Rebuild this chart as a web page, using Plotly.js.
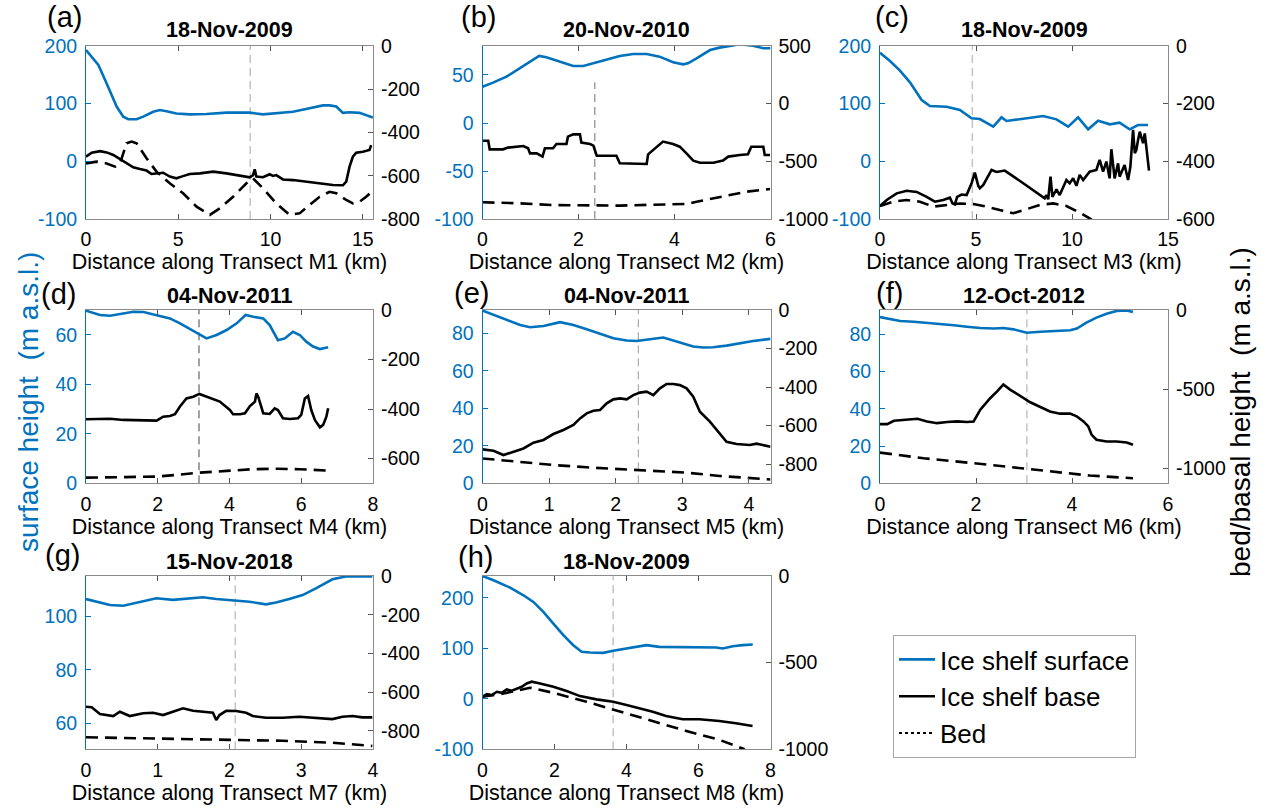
<!DOCTYPE html>
<html><head><meta charset="utf-8">
<script src="https://cdn.plot.ly/plotly-3.0.1.min.js"></script>
<style>html,body{margin:0;padding:0;background:#fff}#chart{width:1262px;height:811px}</style>
</head><body><div id="chart"></div>
<script>
// ---------- DATA ----------
const panelLabels = ['(a)','(b)','(c)','(d)','(e)','(f)','(g)','(h)'];
const dates = ['18-Nov-2009','20-Nov-2010','18-Nov-2009','04-Nov-2011','04-Nov-2011','12-Oct-2012','15-Nov-2018','18-Nov-2009'];
const transects = ['M1','M2','M3','M4','M5','M6','M7','M8'];
const vlineX = [8.9, 2.34, 4.81, 3.15, 2.34, 3.06, 2.08, 3.63];

// (a)
const aSurfX = [0,0.67,1.12,1.66,2.02,2.29,2.74,3.10,3.64,4.0,4.36,4.90,5.62,6.53,7.61,8.87,9.59,10.31,11.21,12.11,12.84,13.20,13.56,13.92,14.28,14.82,15.18,15.54];
const aSurfY = [193,167,135,95,77.5,73,73,77.5,86,89,87,83,81.5,82,84.4,84.4,81.5,83,86,92,97,97,95,84,85,84,80,76];
const aBaseX = [0,0.31,0.76,1.12,1.48,1.84,2.20,2.56,2.92,3.28,3.55,3.82,4.18,4.54,4.90,5.17,5.62,6.17,6.89,7.61,8.33,8.87,9.05,9.14,9.23,9.59,9.95,10.13,10.31,10.67,11.21,11.93,12.66,13.38,13.92,14.10,14.28,14.46,14.64,15.0,15.36,15.45];
const aBaseY = [-512,-493,-486,-492,-504,-524,-543,-561,-569,-576,-592,-589,-586,-604,-612,-604,-592,-589,-581,-589,-601,-607,-597,-570,-604,-607,-593,-601,-597,-617,-620,-627,-635,-643,-644,-627,-558,-512,-493,-489,-481,-458];
const aBedX = [0,0.58,1.12,1.57,1.84,2.20,2.47,2.74,3.28,3.82,4.54,5.26,5.99,6.71,7.25,7.97,8.69,9.05,9.59,10.31,11.03,11.57,12.11,12.66,13.20,13.56,14.10,14.46,14.82,15.18,15.54];
const aBedY = [-543,-535,-543,-558,-543,-450,-442,-450,-519,-581,-635,-681,-743,-781,-751,-697,-635,-612,-658,-728,-781,-774,-735,-697,-674,-681,-712,-728,-720,-697,-669];

// (b)
const bSurfX = [0,0.22,0.5,0.78,0.99,1.18,1.33,1.61,1.89,2.10,2.31,2.58,2.86,3.14,3.42,3.69,3.97,4.18,4.28,4.46,4.74,4.94,5.15,5.36,5.64,5.85,6.0];
const bSurfY = [37.8,42,48.3,56.9,63.9,69.8,68.4,63.9,59.4,59.4,62.2,66.3,69.8,71.9,71.9,69.1,63.2,61.1,62.2,67.4,76,78.5,80.5,82,80.5,77.8,77.8];
const bBaseX = [0,0.12,0.15,0.43,0.53,0.71,0.85,0.95,0.99,1.13,1.25,1.30,1.47,1.54,1.75,1.78,1.89,2.03,2.06,2.24,2.31,2.38,2.79,2.86,3.14,3.17,3.42,3.45,3.56,3.76,3.97,4.11,4.25,4.39,4.53,4.81,5.01,5.12,5.36,5.53,5.60,5.85,5.88,5.99];
const bBaseY = [-321,-321,-396,-396,-381,-373,-367,-387,-431,-431,-459,-387,-387,-350,-350,-286,-266,-266,-338,-350,-364,-451,-451,-517,-517,-523,-523,-439,-402,-329,-350,-373,-431,-494,-512,-512,-494,-459,-445,-439,-373,-373,-445,-445];
const bBedX = [0,0.78,1.47,2.17,2.86,3.56,4.25,4.46,4.81,5.15,5.50,5.99];
const bBedY = [-855,-864,-879,-884,-884,-876,-870,-850,-821,-792,-763,-740];

// (c)
const cSurfX = [0,0.52,1.04,1.56,2.17,2.60,3.47,4.16,4.77,5.20,5.90,6.33,6.59,8.50,9.19,9.80,10.32,10.84,11.36,11.97,12.48,13.00,13.44,13.96];
const cSurfY = [188.4,174,157.2,137,106.4,96,94.8,89,74.6,73.4,60.1,76.3,70,78.6,72.8,60.1,76.3,55.5,70.5,64.2,67.1,55.5,63,63];
const cBaseX = [0,0.35,0.87,1.39,1.91,2.43,2.86,3.29,3.64,3.78,3.90,4.02,4.25,4.51,4.77,4.94,5.12,5.20,5.38,5.81,6.07,6.50,7.46,8.58,8.67,8.76,8.88,8.98,9.19,9.36,9.71,9.88,10.06,10.23,10.40,10.58,10.92,11.27,11.44,11.62,11.79,11.96,12.05,12.22,12.40,12.48,12.74,12.92,13.04,13.18,13.27,13.35,13.44,13.53,13.70,13.79,13.87,13.96,14.01];
const cBaseY = [-555,-534,-511,-502,-506,-523,-540,-534,-526,-546,-549,-523,-515,-517,-476,-439,-485,-493,-482,-430,-437,-432,-476,-528,-517,-532,-453,-523,-497,-517,-465,-476,-459,-485,-447,-465,-436,-430,-395,-436,-401,-459,-358,-459,-407,-453,-413,-465,-419,-291,-372,-361,-326,-297,-337,-303,-349,-407,-432];
const cBedX = [0,0.69,1.39,2.08,2.77,3.47,4.16,4.86,5.55,6.24,6.94,7.63,8.32,9.02,9.71,10.40,10.92,11.6];
const cBedY = [-555,-540,-534,-540,-557,-551,-546,-548,-557,-569,-580,-566,-551,-546,-555,-578,-598,-630];

// (d)
const dSurfX = [0,0.39,0.67,1.32,1.60,2.06,2.34,2.62,2.90,3.16,3.36,3.64,3.92,4.20,4.45,4.66,4.94,5.12,5.35,5.54,5.77,5.96,6.14,6.33,6.52,6.75];
const dSurfY = [69.8,68.1,67.8,69.4,69.3,67.7,66.7,64.7,62.3,60.0,58.6,60.0,62.0,64.7,68.1,67.4,66.7,64.0,57.9,58.6,61.3,60.0,57.3,55.3,54.3,55.0];
const dBaseX = [0,0.39,0.67,1.04,1.50,1.97,2.15,2.34,2.48,2.62,2.80,2.99,3.16,3.36,3.55,3.73,4.01,4.10,4.29,4.43,4.57,4.71,4.75,4.80,4.94,5.12,5.26,5.35,5.49,5.68,5.91,6.00,6.10,6.19,6.28,6.38,6.52,6.61,6.70,6.75];
const dBaseY = [-441,-441,-439,-444,-444,-447,-431,-428,-421,-390,-357,-350,-339,-350,-363,-370,-404,-421,-421,-417,-388,-370,-337,-350,-417,-420,-397,-404,-437,-440,-437,-424,-357,-347,-404,-444,-474,-464,-431,-397];
const dBedX = [0,1.32,1.97,2.52,3.17,3.92,4.66,5.31,5.96,6.75];
const dBedY = [-677,-676,-673,-666,-657,-650,-643,-641,-643,-649];

// (e)
const eSurfX = [0,0.165,0.365,0.565,0.715,0.915,1.165,1.365,1.565,1.765,1.965,2.165,2.315,2.515,2.715,2.865,3.015,3.165,3.315,3.465,3.665,3.865,4.065,4.325];
const eSurfY = [92.1,89.8,87.1,84.4,83.2,83.9,85.9,84.4,82.1,79.6,77.3,76.1,75.9,76.8,77.7,76.1,74.7,72.9,72.4,72.5,73.4,74.7,75.9,77.0];
const eBaseX = [0,0.165,0.315,0.465,0.615,0.765,0.915,1.065,1.215,1.365,1.465,1.565,1.665,1.765,1.865,1.965,2.065,2.165,2.265,2.365,2.465,2.565,2.665,2.765,2.865,2.965,3.065,3.165,3.265,3.415,3.565,3.665,3.815,4.015,4.115,4.215,4.325];
const eBaseY = [-724,-731,-753,-736,-719,-689,-675,-644,-623,-597,-563,-537,-523,-519,-485,-464,-459,-464,-442,-429,-424,-442,-407,-384,-384,-390,-407,-450,-528,-580,-641,-684,-696,-701,-694,-701,-710];
const eBedX = [0,0.565,1.065,1.565,2.065,2.565,3.065,3.565,4.065,4.325];
const eBedY = [-771,-791,-805,-817,-826,-835,-845,-862,-874,-880];

// (f)
const fSurfX = [0,0.22,0.42,0.7,0.97,1.25,1.54,1.81,2.09,2.37,2.57,2.78,2.96,3.06,3.34,3.68,3.96,4.10,4.30,4.51,4.72,4.93,5.14,5.27];
const fSurfY = [89.3,88.4,87.2,86.8,86.3,85.4,84.9,84.1,83.4,83.2,83.4,82.7,81.3,80.9,81.4,81.8,82.2,83.1,86.3,89.0,91.1,92.6,92.9,92.0];
const fBaseX = [0,0.15,0.29,0.57,0.78,0.98,1.19,1.40,1.61,1.81,1.95,2.09,2.30,2.44,2.57,2.71,2.92,3.13,3.34,3.54,3.75,3.96,4.10,4.24,4.34,4.41,4.51,4.72,4.93,5.14,5.27];
const fBaseY = [-721,-721,-700,-693,-687,-704,-715,-708,-704,-708,-704,-630,-556,-514,-471,-503,-545,-583,-613,-641,-655,-655,-672,-704,-736,-789,-820,-831,-831,-837,-852];
const fBedX = [0,0.91,1.95,2.64,3.06,3.68,4.37,5.27];
const fBedY = [-901,-937,-968,-989,-1004,-1025,-1046,-1063];

// (g)
const gSurfX = [0,0.148,0.333,0.519,0.704,0.981,1.213,1.398,1.630,1.815,2.046,2.278,2.509,2.648,2.833,3.019,3.204,3.435,3.62,3.85,3.99];
const gSurfY = [106.6,105.6,104.4,104.1,105.3,106.9,106.3,106.8,107.3,106.6,106.0,105.6,104.6,105.3,106.6,108.1,110.6,114,115.1,115.1,115.1];
const gBaseX = [0,0.079,0.194,0.380,0.472,0.611,0.796,0.935,1.074,1.213,1.352,1.491,1.676,1.769,1.815,1.861,1.954,2.093,2.231,2.324,2.509,2.741,2.972,3.204,3.435,3.574,3.713,3.852,3.991];
const gBaseY = [-676,-679,-714,-724,-702,-724,-710,-707,-719,-702,-684,-697,-703,-707,-745,-719,-697,-698,-707,-724,-733,-733,-728,-736,-740,-728,-724,-731,-731];
const gBedX = [0,1.12,2.046,2.741,3.435,3.991];
const gBedY = [-834,-840,-845,-852,-862,-879];

// (h)
const hSurfX = [0,0.305,0.767,1.136,1.413,1.690,1.968,2.245,2.522,2.753,2.984,3.353,3.630,4.0,4.273,4.550,4.920,5.289,5.659,6.120,6.490,6.674,6.951,7.228,7.506];
const hSurfY = [243.5,235,220.4,205.3,192.1,172.3,149.2,126.2,106.4,93.2,91.9,91.2,95.2,99.8,104.4,106.4,103.1,103.1,101.8,103.1,101.8,99.8,104.4,106.4,107.7];
const hBaseX = [0,0.12,0.259,0.397,0.536,0.674,0.813,0.951,1.090,1.229,1.367,1.598,1.968,2.337,2.707,3.168,3.630,4.0,4.360,4.730,5.099,5.561,6.023,6.577,7.039,7.501];
const hBaseY = [-697,-681,-687,-668,-674,-655,-662,-649,-639,-620,-610,-620,-639,-664,-693,-712,-726,-745,-764,-783,-808,-827,-827,-837,-850,-866];
const hBedX = [0,0.582,1.321,1.968,2.892,3.815,4.739,5.663,6.587,7.28];
const hBedY = [-697,-678,-645,-674,-726,-783,-841,-894,-946,-1000];

// axis tick values
const xTicks = [[0,5,10,15],[0,2,4,6],[0,5,10,15],[0,2,4,6,8],[0,1,2,3,4],[0,2,4,6],[0,1,2,3,4],[0,2,4,6,8]];
const yLeftTicks = [[-100,0,100,200],[-100,-50,0,50],[-100,0,100,200],[0,20,40,60],[0,20,40,60,80],[0,20,40,60,80],[60,80,100],[-100,0,100,200]];
const yRightTicks = [[-800,-600,-400,-200,0],[-1000,-500,0,500],[-600,-400,-200,0],[-600,-400,-200,0],[-800,-600,-400,-200,0],[-1000,-500,0],[-800,-600,-400,-200,0],[-1000,-500,0]];

// ---------- LAYOUT ----------
const W = 1262, H = 811;
const fx = p => p / W, fy = p => 1 - p / H;
const FONT = '"Liberation Sans", Arial, Helvetica, sans-serif';
const BLUE = '#0072BD';
const FRAME = '#8a8a8a';
const colsPx = [[86,373],[482.5,770.5],[880,1168]];
const rowsPx = [[46,219],[310,483.3],[576,749.3]];

const panels = [
  {sx:aSurfX, sy:aSurfY, bx:aBaseX, by:aBaseY, dx:aBedX, dy:aBedY, col:0,row:0, xr:[0,15.55], ylr:[-100,200], yrr:[-800,0], vt:1, vc:'#c4c4c4', vw:1.5, lab:[64,17]},
  {sx:bSurfX, sy:bSurfY, bx:bBaseX, by:bBaseY, dx:bBedX, dy:bBedY, col:1,row:0, xr:[0,6], ylr:[-100,80.2], yrr:[-1000,500], vt:0.79, vc:'#707070', vw:1, lab:[478,17]},
  {sx:cSurfX, sy:cSurfY, bx:cBaseX, by:cBaseY, dx:cBedX, dy:cBedY, col:2,row:0, xr:[0,15], ylr:[-100,200], yrr:[-600,0], vt:1, vc:'#c4c4c4', vw:1.5, lab:[892,17]},
  {sx:dSurfX, sy:dSurfY, bx:dBaseX, by:dBaseY, dx:dBedX, dy:dBedY, col:0,row:1, xr:[0,8], ylr:[0,70.1], yrr:[-700,0], vt:1, vc:'#444444', vw:1, lab:[59,294]},
  {sx:eSurfX, sy:eSurfY, bx:eBaseX, by:eBaseY, dx:eBedX, dy:eBedY, col:1,row:1, xr:[0,4.325], ylr:[0,92.4], yrr:[-900,0], vt:1, vc:'#9a9a9a', vw:1, lab:[472,293]},
  {sx:fSurfX, sy:fSurfY, bx:fBaseX, by:fBaseY, dx:fBedX, dy:fBedY, col:2,row:1, xr:[0,6], ylr:[0,93.1], yrr:[-1095,0], vt:1, vc:'#b4b4b4', vw:1.2, lab:[889,293]},
  {sx:gSurfX, sy:gSurfY, bx:gBaseX, by:gBaseY, dx:gBedX, dy:gBedY, col:0,row:2, xr:[0,4], ylr:[50.25,115.25], yrr:[-896,0], vt:1, vc:'#c4c4c4', vw:1.5, lab:[62,555]},
  {sx:hSurfX, sy:hSurfY, bx:hBaseX, by:hBaseY, dx:hBedX, dy:hBedY, col:1,row:2, xr:[0,8], ylr:[-100,243.5], yrr:[-1000,0], vt:1, vc:'#c4c4c4', vw:1.5, lab:[475,557]}
];
const titleY = [30,30,30,296,296,296,562,562];

const traces = [];
const layout = {
  width: W, height: H,
  margin: {l:0, r:0, t:0, b:0},
  paper_bgcolor: '#fff', plot_bgcolor: '#fff',
  font: {family: FONT, color: '#000'},
  showlegend: true,
  legend: {x: fx(893), y: fy(635), xanchor:'left', yanchor:'top', bgcolor:'#fff',
           bordercolor:'#a6a6a6', borderwidth:1, font:{size:26, family:FONT, color:'#000'},
           itemwidth:36, tracegroupgap:0},
  annotations: [], shapes: []
};

panels.forEach((p, i) => {
  const n = i + 1;
  const xn = n === 1 ? 'x' : 'x' + n;
  const yl = 2*i + 1, yr = 2*i + 2;
  const yln = yl === 1 ? 'y' : 'y' + yl;
  const yrn = 'y' + yr;
  const [c0, c1] = colsPx[p.col];
  const [r0, r1] = rowsPx[p.row];

  layout['xaxis' + (n === 1 ? '' : n)] = {
    domain: [fx(c0), fx(c1)], range: p.xr, anchor: yln,
    tickvals: xTicks[i], ticktext: xTicks[i].map(String),
    showline: true, linecolor: FRAME, linewidth: 1, mirror: 'ticks',
    ticks: 'inside', ticklen: 5, tickcolor: '#555', showgrid: false, zeroline: false,
    tickfont: {size: 19.5, color: '#000'}, ticklabelstandoff: 3,
    title: {text: 'Distance along Transect ' + transects[i] + ' (km)', font: {size: 21.5, color: '#000'}, standoff: 4}
  };
  layout['yaxis' + (yl === 1 ? '' : yl)] = {
    domain: [fy(r1), fy(r0)], range: p.ylr, anchor: xn, side: 'left',
    tickvals: yLeftTicks[i], ticktext: yLeftTicks[i].map(String),
    showline: true, linecolor: BLUE, linewidth: 1,
    ticks: 'inside', ticklen: 5, tickcolor: BLUE, showgrid: false, zeroline: false,
    tickfont: {size: 19.5, color: BLUE}, ticklabelstandoff: 4
  };
  layout['yaxis' + yr] = {
    overlaying: yln, anchor: xn, side: 'right', range: p.yrr,
    tickvals: yRightTicks[i], ticktext: yRightTicks[i].map(String),
    showline: true, linecolor: FRAME, linewidth: 1,
    ticks: 'inside', ticklen: 5, tickcolor: '#555', showgrid: false, zeroline: false,
    tickfont: {size: 19.5, color: '#000'}, ticklabelstandoff: 3
  };

  traces.push({x: p.sx, y: p.sy, xaxis: xn, yaxis: yln, mode: 'lines', type: 'scatter',
    name: 'Ice shelf surface', showlegend: i === 0, line: {color: BLUE, width: 2.6}, hoverinfo:'skip'});
  traces.push({x: p.bx, y: p.by, xaxis: xn, yaxis: yrn, mode: 'lines', type: 'scatter',
    name: 'Ice shelf base', showlegend: i === 0, line: {color: '#000', width: 2.6}, hoverinfo:'skip'});
  traces.push({x: p.dx, y: p.dy, xaxis: xn, yaxis: yrn, mode: 'lines', type: 'scatter',
    name: 'Bed', showlegend: false, line: {color: '#000', width: 2.6, dash: '12px,7px'}, hoverinfo:'skip'});
  if (i === 0) {
    traces.push({x: [null], y: [null], xaxis: xn, yaxis: yrn, mode: 'lines', type: 'scatter',
      name: 'Bed', showlegend: true, line: {color: '#000', width: 2, dash: 'dot'}});
  }

  layout.shapes.push({type: 'line', xref: xn, yref: yln + ' domain', x0: vlineX[i], x1: vlineX[i],
    y0: 0, y1: p.vt, line: {color: p.vc, width: p.vw, dash: '8px,5px'}, layer: 'below'});

  layout.annotations.push({xref: 'paper', yref: 'paper', x: fx((c0 + c1) / 2), y: fy(titleY[i]),
    xanchor: 'center', yanchor: 'middle', showarrow: false,
    text: '<b>' + dates[i] + '</b>', font: {size: 21.5, color: '#000', family: FONT}});
  layout.annotations.push({xref: 'paper', yref: 'paper', x: fx(p.lab[0]), y: fy(p.lab[1]),
    xanchor: 'center', yanchor: 'middle', showarrow: false,
    text: panelLabels[i], font: {size: 29, color: '#000', family: FONT}});
});

layout.annotations.push({xref:'paper', yref:'paper', x: fx(28), y: fy(402), xanchor:'center', yanchor:'middle',
  showarrow:false, textangle:-90, text:'surface height  (m a.s.l.)', font:{size:28, color:BLUE, family:FONT}});
layout.annotations.push({xref:'paper', yref:'paper', x: fx(1240), y: fy(412), xanchor:'center', yanchor:'middle',
  showarrow:false, textangle:-90, text:'bed/basal height  (m a.s.l.)', font:{size:28, color:'#000', family:FONT}});

Plotly.newPlot('chart', traces, layout, {displayModeBar: false, staticPlot: true});
</script></body></html>
